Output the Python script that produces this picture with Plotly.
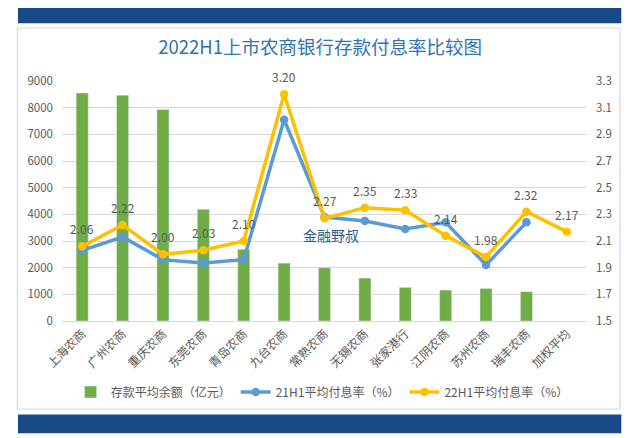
import plotly.graph_objects as go

categories = ["上海农商", "广州农商", "重庆农商", "东莞农商", "青岛农商", "九台农商", "常熟农商",
              "无锡农商", "张家港行", "江阴农商", "苏州农商", "瑞丰农商", "加权平均"]
deposits = [8550, 8470, 7930, 4190, 2690, 2170, 2000, 1610, 1260, 1160, 1220, 1100, None]
rate_21h1 = [2.03, 2.13, 1.96, 1.935, 1.96, 3.01, 2.28, 2.25, 2.19, 2.24, 1.92, 2.24, None]
rate_22h1 = [2.06, 2.22, 2.00, 2.03, 2.10, 3.20, 2.27, 2.35, 2.33, 2.14, 1.98, 2.32, 2.17]
labels_22h1 = [f"{v:.2f}" for v in rate_22h1]

W, H = 640, 438
OFF = 8  # page offset of the figure (default body margin)
# desired plot area in page pixels
PL, PR, PT, PB = 62, 586.7, 81, 321
L, R, T, B = PL - OFF, PR - OFF, PT - OFF, PB - OFF


def px(x):
    """page x pixel -> paper x"""
    return (x - PL) / (PR - PL)


def py(y):
    """page y pixel -> paper y"""
    return (PB - y) / (PB - PT)


FONT = "Noto Sans CJK SC, Noto Sans, sans-serif"
GREY = "#595959"

fig = go.Figure()
fig.add_trace(go.Bar(
    x=categories, y=deposits, name="存款平均余额（亿元）",
    marker=dict(color="#70AD47"), width=0.3, yaxis="y",
))
fig.add_trace(go.Scatter(
    x=categories, y=rate_21h1, name="21H1平均付息率（%）", yaxis="y2",
    mode="lines+markers", line=dict(color="#5B9BD5", width=3.5),
    marker=dict(size=8.5, color="#5B9BD5"), connectgaps=False,
))
fig.add_trace(go.Scatter(
    x=categories, y=rate_22h1, name="22H1平均付息率（%）", yaxis="y2",
    mode="lines+markers", line=dict(color="#FFC000", width=3.5),
    marker=dict(size=8.5, color="#FFC000"),
))

annotations = [
    dict(x=c, y=v, xref="x", yref="y2", text=t, showarrow=False, yshift=17.5,
         font=dict(size=12, color=GREY, family=FONT))
    for c, v, t in zip(categories, rate_22h1, labels_22h1)
]
annotations.append(dict(text="金融野叔", xref="paper", yref="paper", x=px(331), y=py(247),
                        showarrow=False, font=dict(size=14, color="#2E5C8A", family=FONT)))

shapes = [
    dict(type="rect", xref="paper", yref="paper", x0=px(17.5), x1=px(619.5), y0=py(409), y1=py(28),
         line=dict(color="#D9D9D9", width=1.2), fillcolor="rgba(0,0,0,0)", layer="below"),
    dict(type="rect", xref="paper", yref="paper", x0=px(18), x1=px(621), y0=py(23.3), y1=py(5.7),
         line=dict(width=0), fillcolor="#174A87", layer="below"),
    dict(type="rect", xref="paper", yref="paper", x0=px(18), x1=px(621), y0=py(433.3), y1=py(414.5),
         line=dict(width=0), fillcolor="#174A87", layer="below"),
]

fig.update_layout(
    width=W, height=H,
    margin=dict(l=L, r=W - R, t=T, b=H - B, pad=0, autoexpand=False),
    paper_bgcolor="white", plot_bgcolor="white",
    font=dict(family=FONT, color=GREY, size=11),
    title=dict(text="2022H1上市农商银行存款付息率比较图", x=px(320), xref="paper", xanchor="center",
               y=1 - (48 - OFF) / H, yanchor="middle",
               font=dict(size=18.5, color="#2F75B5", family=FONT)),
    xaxis=dict(type="category", tickangle=-45, tickfont=dict(size=12, color=GREY),
               showline=True, linecolor="#D9D9D9", linewidth=1, ticks="", showgrid=False,
               range=[-0.5, 12.5], automargin=False),
    yaxis=dict(range=[0, 9000], dtick=1000, showgrid=True, gridcolor="#D9D9D9", gridwidth=1,
               zeroline=False, tickfont=dict(size=11.5, color=GREY), ticks="", ticklabelstandoff=8,
               automargin=False),
    yaxis2=dict(range=[1.5, 3.3], tick0=1.5, dtick=0.2, overlaying="y", side="right", showgrid=False,
                zeroline=False, tickformat=".1f", tickfont=dict(size=11.5, color=GREY), ticks="",
                ticklabelstandoff=8, automargin=False),
    legend=dict(orientation="h", x=px(322), xanchor="center", y=py(392), yanchor="middle",
                font=dict(size=12, color=GREY), itemwidth=30, traceorder="normal"),
    shapes=shapes,
    annotations=annotations,
)

fig.write_html("out.html")
